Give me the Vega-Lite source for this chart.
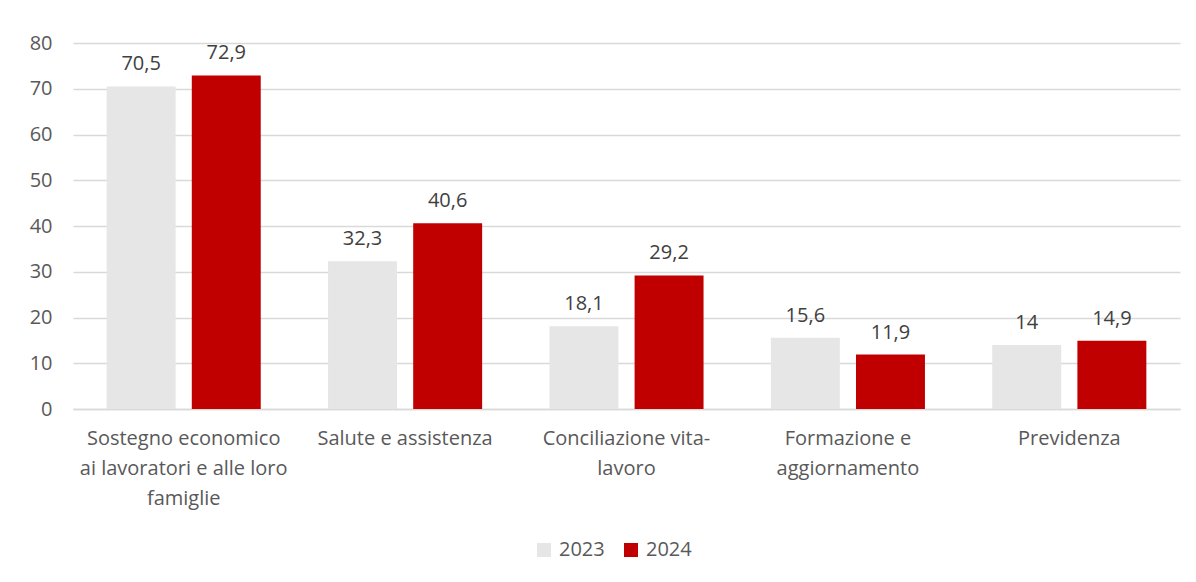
{
  "$schema": "https://vega.github.io/schema/vega-lite/v6.json",
  "autosize": {"type": "none"},
  "width": 1107,
  "height": 366,
  "padding": {"left": 73, "top": 43, "right": 16, "bottom": 173},
  "background": "white",
  "config": {
    "view": {"stroke": null},
    "font": "Open Sans",
    "locale": {"number": {"decimal": ",", "thousands": ".", "grouping": [3], "currency": ["€", ""]}}
  },
  "data": {
    "values": [
      {"categoria": "Sostegno economico\nai lavoratori e alle loro\nfamiglie", "anno": "2023", "valore": 70.5},
      {"categoria": "Sostegno economico\nai lavoratori e alle loro\nfamiglie", "anno": "2024", "valore": 72.9},
      {"categoria": "Salute e assistenza", "anno": "2023", "valore": 32.3},
      {"categoria": "Salute e assistenza", "anno": "2024", "valore": 40.6},
      {"categoria": "Conciliazione vita-\nlavoro", "anno": "2023", "valore": 18.1},
      {"categoria": "Conciliazione vita-\nlavoro", "anno": "2024", "valore": 29.2},
      {"categoria": "Formazione e\naggiornamento", "anno": "2023", "valore": 15.6},
      {"categoria": "Formazione e\naggiornamento", "anno": "2024", "valore": 11.9},
      {"categoria": "Previdenza", "anno": "2023", "valore": 14},
      {"categoria": "Previdenza", "anno": "2024", "valore": 14.9}
    ]
  },
  "encoding": {
    "x": {
      "field": "categoria", "type": "nominal", "sort": null,
      "scale": {"paddingInner": 0.304, "paddingOuter": 0.152},
      "axis": {
        "title": null, "labelAngle": 0, "ticks": false,
        "domainColor": "#d9d9d9", "domainWidth": 1.5,
        "labelFontSize": 20, "labelColor": "#595959", "labelPadding": 19,
        "labelLineHeight": 30, "labelBaseline": "top", "labelLimit": 0,
        "labelExpr": "split(datum.label, '\\n')"
      }
    },
    "xOffset": {"field": "anno", "type": "nominal", "scale": {"paddingInner": 0.19}},
    "y": {
      "field": "valore", "type": "quantitative",
      "scale": {"domain": [0, 80], "nice": false},
      "axis": {
        "title": null, "values": [0, 10, 20, 30, 40, 50, 60, 70, 80],
        "domain": false, "ticks": false,
        "gridColor": "#d9d9d9", "gridWidth": 1.5,
        "labelFontSize": 20, "labelColor": "#595959", "labelPadding": 21
      }
    }
  },
  "layer": [
    {
      "mark": {"type": "bar"},
      "encoding": {
        "color": {
          "field": "anno", "type": "nominal",
          "scale": {"domain": ["2023", "2024"], "range": ["#e6e6e6", "#c00000"]},
          "legend": {
            "title": null, "orient": "none", "direction": "horizontal",
            "legendX": 461, "legendY": 497,
            "symbolType": "square", "symbolSize": 196, "symbolStrokeWidth": 0,
            "labelFontSize": 20, "labelColor": "#595959", "columnPadding": 16, "labelOffset": 5
          }
        }
      }
    },
    {
      "mark": {"type": "text", "baseline": "alphabetic", "dy": -16, "fontSize": 20, "color": "#404040"},
      "encoding": {
        "text": {"field": "valore", "type": "quantitative", "format": ".1~f"}
      }
    }
  ]
}
